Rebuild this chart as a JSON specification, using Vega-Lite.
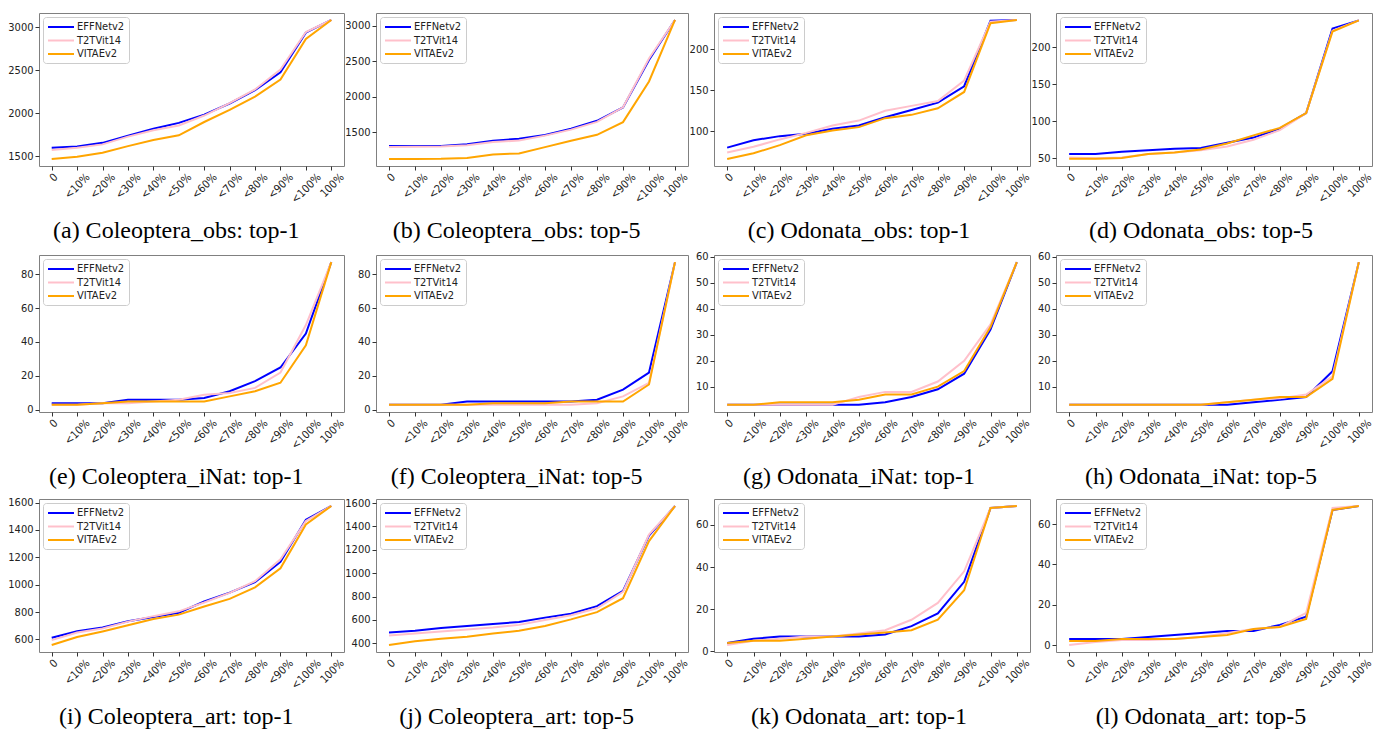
{
"$schema": "https://vega.github.io/schema/vega-lite/v6.json",
"padding": {"left": 6, "top": 12, "right": 0, "bottom": 0},
"background": "white",
"spacing": {"row": 6, "column": -4},
"columns": 4,
"datasets": {
"pts": [
{"p":"a","m":"EFFNetv2","c":"0","v":1600},{"p":"a","m":"EFFNetv2","c":"<10%","v":1615},{"p":"a","m":"EFFNetv2","c":"<20%","v":1658},{"p":"a","m":"EFFNetv2","c":"<30%","v":1742},{"p":"a","m":"EFFNetv2","c":"<40%","v":1822},{"p":"a","m":"EFFNetv2","c":"<50%","v":1890},{"p":"a","m":"EFFNetv2","c":"<60%","v":1985},{"p":"a","m":"EFFNetv2","c":"<70%","v":2115},{"p":"a","m":"EFFNetv2","c":"<80%","v":2270},{"p":"a","m":"EFFNetv2","c":"<90%","v":2478},{"p":"a","m":"EFFNetv2","c":"<100%","v":2938},{"p":"a","m":"EFFNetv2","c":"100%","v":3085},
{"p":"a","m":"T2TVit14","c":"0","v":1575},{"p":"a","m":"T2TVit14","c":"<10%","v":1600},{"p":"a","m":"T2TVit14","c":"<20%","v":1640},{"p":"a","m":"T2TVit14","c":"<30%","v":1730},{"p":"a","m":"T2TVit14","c":"<40%","v":1805},{"p":"a","m":"T2TVit14","c":"<50%","v":1860},{"p":"a","m":"T2TVit14","c":"<60%","v":1975},{"p":"a","m":"T2TVit14","c":"<70%","v":2120},{"p":"a","m":"T2TVit14","c":"<80%","v":2278},{"p":"a","m":"T2TVit14","c":"<90%","v":2510},{"p":"a","m":"T2TVit14","c":"<100%","v":2945},{"p":"a","m":"T2TVit14","c":"100%","v":3085},
{"p":"a","m":"VITAEv2","c":"0","v":1470},{"p":"a","m":"VITAEv2","c":"<10%","v":1496},{"p":"a","m":"VITAEv2","c":"<20%","v":1542},{"p":"a","m":"VITAEv2","c":"<30%","v":1620},{"p":"a","m":"VITAEv2","c":"<40%","v":1690},{"p":"a","m":"VITAEv2","c":"<50%","v":1746},{"p":"a","m":"VITAEv2","c":"<60%","v":1900},{"p":"a","m":"VITAEv2","c":"<70%","v":2040},{"p":"a","m":"VITAEv2","c":"<80%","v":2196},{"p":"a","m":"VITAEv2","c":"<90%","v":2392},{"p":"a","m":"VITAEv2","c":"<100%","v":2865},{"p":"a","m":"VITAEv2","c":"100%","v":3085},
{"p":"b","m":"EFFNetv2","c":"0","v":1302},{"p":"b","m":"EFFNetv2","c":"<10%","v":1302},{"p":"b","m":"EFFNetv2","c":"<20%","v":1305},{"p":"b","m":"EFFNetv2","c":"<30%","v":1330},{"p":"b","m":"EFFNetv2","c":"<40%","v":1378},{"p":"b","m":"EFFNetv2","c":"<50%","v":1406},{"p":"b","m":"EFFNetv2","c":"<60%","v":1460},{"p":"b","m":"EFFNetv2","c":"<70%","v":1547},{"p":"b","m":"EFFNetv2","c":"<80%","v":1660},{"p":"b","m":"EFFNetv2","c":"<90%","v":1848},{"p":"b","m":"EFFNetv2","c":"<100%","v":2520},{"p":"b","m":"EFFNetv2","c":"100%","v":3085},
{"p":"b","m":"T2TVit14","c":"0","v":1290},{"p":"b","m":"T2TVit14","c":"<10%","v":1292},{"p":"b","m":"T2TVit14","c":"<20%","v":1295},{"p":"b","m":"T2TVit14","c":"<30%","v":1315},{"p":"b","m":"T2TVit14","c":"<40%","v":1360},{"p":"b","m":"T2TVit14","c":"<50%","v":1380},{"p":"b","m":"T2TVit14","c":"<60%","v":1450},{"p":"b","m":"T2TVit14","c":"<70%","v":1535},{"p":"b","m":"T2TVit14","c":"<80%","v":1645},{"p":"b","m":"T2TVit14","c":"<90%","v":1850},{"p":"b","m":"T2TVit14","c":"<100%","v":2540},{"p":"b","m":"T2TVit14","c":"100%","v":3085},
{"p":"b","m":"VITAEv2","c":"0","v":1119},{"p":"b","m":"VITAEv2","c":"<10%","v":1120},{"p":"b","m":"VITAEv2","c":"<20%","v":1122},{"p":"b","m":"VITAEv2","c":"<30%","v":1133},{"p":"b","m":"VITAEv2","c":"<40%","v":1185},{"p":"b","m":"VITAEv2","c":"<50%","v":1199},{"p":"b","m":"VITAEv2","c":"<60%","v":1288},{"p":"b","m":"VITAEv2","c":"<70%","v":1378},{"p":"b","m":"VITAEv2","c":"<80%","v":1462},{"p":"b","m":"VITAEv2","c":"<90%","v":1641},{"p":"b","m":"VITAEv2","c":"<100%","v":2215},{"p":"b","m":"VITAEv2","c":"100%","v":3085},
{"p":"c","m":"EFFNetv2","c":"0","v":80},{"p":"c","m":"EFFNetv2","c":"<10%","v":89},{"p":"c","m":"EFFNetv2","c":"<20%","v":94},{"p":"c","m":"EFFNetv2","c":"<30%","v":97},{"p":"c","m":"EFFNetv2","c":"<40%","v":103},{"p":"c","m":"EFFNetv2","c":"<50%","v":107},{"p":"c","m":"EFFNetv2","c":"<60%","v":117},{"p":"c","m":"EFFNetv2","c":"<70%","v":126},{"p":"c","m":"EFFNetv2","c":"<80%","v":135},{"p":"c","m":"EFFNetv2","c":"<90%","v":155},{"p":"c","m":"EFFNetv2","c":"<100%","v":235},{"p":"c","m":"EFFNetv2","c":"100%","v":236},
{"p":"c","m":"T2TVit14","c":"0","v":74},{"p":"c","m":"T2TVit14","c":"<10%","v":81},{"p":"c","m":"T2TVit14","c":"<20%","v":90},{"p":"c","m":"T2TVit14","c":"<30%","v":98},{"p":"c","m":"T2TVit14","c":"<40%","v":107},{"p":"c","m":"T2TVit14","c":"<50%","v":113},{"p":"c","m":"T2TVit14","c":"<60%","v":125},{"p":"c","m":"T2TVit14","c":"<70%","v":131},{"p":"c","m":"T2TVit14","c":"<80%","v":137},{"p":"c","m":"T2TVit14","c":"<90%","v":162},{"p":"c","m":"T2TVit14","c":"<100%","v":234},{"p":"c","m":"T2TVit14","c":"100%","v":236},
{"p":"c","m":"VITAEv2","c":"0","v":66},{"p":"c","m":"VITAEv2","c":"<10%","v":73},{"p":"c","m":"VITAEv2","c":"<20%","v":83},{"p":"c","m":"VITAEv2","c":"<30%","v":95},{"p":"c","m":"VITAEv2","c":"<40%","v":101},{"p":"c","m":"VITAEv2","c":"<50%","v":105},{"p":"c","m":"VITAEv2","c":"<60%","v":116},{"p":"c","m":"VITAEv2","c":"<70%","v":120},{"p":"c","m":"VITAEv2","c":"<80%","v":128},{"p":"c","m":"VITAEv2","c":"<90%","v":148},{"p":"c","m":"VITAEv2","c":"<100%","v":232},{"p":"c","m":"VITAEv2","c":"100%","v":236},
{"p":"d","m":"EFFNetv2","c":"0","v":56},{"p":"d","m":"EFFNetv2","c":"<10%","v":56},{"p":"d","m":"EFFNetv2","c":"<20%","v":59},{"p":"d","m":"EFFNetv2","c":"<30%","v":61},{"p":"d","m":"EFFNetv2","c":"<40%","v":63},{"p":"d","m":"EFFNetv2","c":"<50%","v":64},{"p":"d","m":"EFFNetv2","c":"<60%","v":71},{"p":"d","m":"EFFNetv2","c":"<70%","v":78},{"p":"d","m":"EFFNetv2","c":"<80%","v":90},{"p":"d","m":"EFFNetv2","c":"<90%","v":111},{"p":"d","m":"EFFNetv2","c":"<100%","v":225},{"p":"d","m":"EFFNetv2","c":"100%","v":236},
{"p":"d","m":"T2TVit14","c":"0","v":51},{"p":"d","m":"T2TVit14","c":"<10%","v":50},{"p":"d","m":"T2TVit14","c":"<20%","v":51},{"p":"d","m":"T2TVit14","c":"<30%","v":56},{"p":"d","m":"T2TVit14","c":"<40%","v":58},{"p":"d","m":"T2TVit14","c":"<50%","v":61},{"p":"d","m":"T2TVit14","c":"<60%","v":66},{"p":"d","m":"T2TVit14","c":"<70%","v":75},{"p":"d","m":"T2TVit14","c":"<80%","v":88},{"p":"d","m":"T2TVit14","c":"<90%","v":111},{"p":"d","m":"T2TVit14","c":"<100%","v":222},{"p":"d","m":"T2TVit14","c":"100%","v":236},
{"p":"d","m":"VITAEv2","c":"0","v":49.5},{"p":"d","m":"VITAEv2","c":"<10%","v":49.5},{"p":"d","m":"VITAEv2","c":"<20%","v":50.5},{"p":"d","m":"VITAEv2","c":"<30%","v":56},{"p":"d","m":"VITAEv2","c":"<40%","v":58},{"p":"d","m":"VITAEv2","c":"<50%","v":62},{"p":"d","m":"VITAEv2","c":"<60%","v":70},{"p":"d","m":"VITAEv2","c":"<70%","v":81},{"p":"d","m":"VITAEv2","c":"<80%","v":91},{"p":"d","m":"VITAEv2","c":"<90%","v":111},{"p":"d","m":"VITAEv2","c":"<100%","v":221},{"p":"d","m":"VITAEv2","c":"100%","v":236},
{"p":"e","m":"EFFNetv2","c":"0","v":4},{"p":"e","m":"EFFNetv2","c":"<10%","v":4},{"p":"e","m":"EFFNetv2","c":"<20%","v":4},{"p":"e","m":"EFFNetv2","c":"<30%","v":6},{"p":"e","m":"EFFNetv2","c":"<40%","v":6},{"p":"e","m":"EFFNetv2","c":"<50%","v":6},{"p":"e","m":"EFFNetv2","c":"<60%","v":7},{"p":"e","m":"EFFNetv2","c":"<70%","v":11},{"p":"e","m":"EFFNetv2","c":"<80%","v":17},{"p":"e","m":"EFFNetv2","c":"<90%","v":25},{"p":"e","m":"EFFNetv2","c":"<100%","v":45},{"p":"e","m":"EFFNetv2","c":"100%","v":87},
{"p":"e","m":"T2TVit14","c":"0","v":3},{"p":"e","m":"T2TVit14","c":"<10%","v":3},{"p":"e","m":"T2TVit14","c":"<20%","v":4},{"p":"e","m":"T2TVit14","c":"<30%","v":4},{"p":"e","m":"T2TVit14","c":"<40%","v":5},{"p":"e","m":"T2TVit14","c":"<50%","v":6},{"p":"e","m":"T2TVit14","c":"<60%","v":9},{"p":"e","m":"T2TVit14","c":"<70%","v":10},{"p":"e","m":"T2TVit14","c":"<80%","v":13},{"p":"e","m":"T2TVit14","c":"<90%","v":22},{"p":"e","m":"T2TVit14","c":"<100%","v":50},{"p":"e","m":"T2TVit14","c":"100%","v":87},
{"p":"e","m":"VITAEv2","c":"0","v":3},{"p":"e","m":"VITAEv2","c":"<10%","v":3},{"p":"e","m":"VITAEv2","c":"<20%","v":4},{"p":"e","m":"VITAEv2","c":"<30%","v":5},{"p":"e","m":"VITAEv2","c":"<40%","v":5},{"p":"e","m":"VITAEv2","c":"<50%","v":5},{"p":"e","m":"VITAEv2","c":"<60%","v":5},{"p":"e","m":"VITAEv2","c":"<70%","v":8},{"p":"e","m":"VITAEv2","c":"<80%","v":11},{"p":"e","m":"VITAEv2","c":"<90%","v":16},{"p":"e","m":"VITAEv2","c":"<100%","v":38},{"p":"e","m":"VITAEv2","c":"100%","v":87},
{"p":"f","m":"EFFNetv2","c":"0","v":3},{"p":"f","m":"EFFNetv2","c":"<10%","v":3},{"p":"f","m":"EFFNetv2","c":"<20%","v":3},{"p":"f","m":"EFFNetv2","c":"<30%","v":5},{"p":"f","m":"EFFNetv2","c":"<40%","v":5},{"p":"f","m":"EFFNetv2","c":"<50%","v":5},{"p":"f","m":"EFFNetv2","c":"<60%","v":5},{"p":"f","m":"EFFNetv2","c":"<70%","v":5},{"p":"f","m":"EFFNetv2","c":"<80%","v":6},{"p":"f","m":"EFFNetv2","c":"<90%","v":12},{"p":"f","m":"EFFNetv2","c":"<100%","v":22},{"p":"f","m":"EFFNetv2","c":"100%","v":87},
{"p":"f","m":"T2TVit14","c":"0","v":3},{"p":"f","m":"T2TVit14","c":"<10%","v":3},{"p":"f","m":"T2TVit14","c":"<20%","v":3},{"p":"f","m":"T2TVit14","c":"<30%","v":3},{"p":"f","m":"T2TVit14","c":"<40%","v":3},{"p":"f","m":"T2TVit14","c":"<50%","v":3},{"p":"f","m":"T2TVit14","c":"<60%","v":3},{"p":"f","m":"T2TVit14","c":"<70%","v":3},{"p":"f","m":"T2TVit14","c":"<80%","v":4},{"p":"f","m":"T2TVit14","c":"<90%","v":8},{"p":"f","m":"T2TVit14","c":"<100%","v":16},{"p":"f","m":"T2TVit14","c":"100%","v":87},
{"p":"f","m":"VITAEv2","c":"0","v":3},{"p":"f","m":"VITAEv2","c":"<10%","v":3},{"p":"f","m":"VITAEv2","c":"<20%","v":3},{"p":"f","m":"VITAEv2","c":"<30%","v":3},{"p":"f","m":"VITAEv2","c":"<40%","v":4},{"p":"f","m":"VITAEv2","c":"<50%","v":4},{"p":"f","m":"VITAEv2","c":"<60%","v":4},{"p":"f","m":"VITAEv2","c":"<70%","v":5},{"p":"f","m":"VITAEv2","c":"<80%","v":5},{"p":"f","m":"VITAEv2","c":"<90%","v":5},{"p":"f","m":"VITAEv2","c":"<100%","v":15},{"p":"f","m":"VITAEv2","c":"100%","v":87},
{"p":"g","m":"EFFNetv2","c":"0","v":3},{"p":"g","m":"EFFNetv2","c":"<10%","v":3},{"p":"g","m":"EFFNetv2","c":"<20%","v":3},{"p":"g","m":"EFFNetv2","c":"<30%","v":3},{"p":"g","m":"EFFNetv2","c":"<40%","v":3},{"p":"g","m":"EFFNetv2","c":"<50%","v":3},{"p":"g","m":"EFFNetv2","c":"<60%","v":4},{"p":"g","m":"EFFNetv2","c":"<70%","v":6},{"p":"g","m":"EFFNetv2","c":"<80%","v":9},{"p":"g","m":"EFFNetv2","c":"<90%","v":15},{"p":"g","m":"EFFNetv2","c":"<100%","v":32},{"p":"g","m":"EFFNetv2","c":"100%","v":58},
{"p":"g","m":"T2TVit14","c":"0","v":3},{"p":"g","m":"T2TVit14","c":"<10%","v":3},{"p":"g","m":"T2TVit14","c":"<20%","v":3},{"p":"g","m":"T2TVit14","c":"<30%","v":3},{"p":"g","m":"T2TVit14","c":"<40%","v":3},{"p":"g","m":"T2TVit14","c":"<50%","v":6},{"p":"g","m":"T2TVit14","c":"<60%","v":8},{"p":"g","m":"T2TVit14","c":"<70%","v":8},{"p":"g","m":"T2TVit14","c":"<80%","v":12},{"p":"g","m":"T2TVit14","c":"<90%","v":20},{"p":"g","m":"T2TVit14","c":"<100%","v":34},{"p":"g","m":"T2TVit14","c":"100%","v":58},
{"p":"g","m":"VITAEv2","c":"0","v":3},{"p":"g","m":"VITAEv2","c":"<10%","v":3},{"p":"g","m":"VITAEv2","c":"<20%","v":4},{"p":"g","m":"VITAEv2","c":"<30%","v":4},{"p":"g","m":"VITAEv2","c":"<40%","v":4},{"p":"g","m":"VITAEv2","c":"<50%","v":5},{"p":"g","m":"VITAEv2","c":"<60%","v":7},{"p":"g","m":"VITAEv2","c":"<70%","v":7},{"p":"g","m":"VITAEv2","c":"<80%","v":10},{"p":"g","m":"VITAEv2","c":"<90%","v":16},{"p":"g","m":"VITAEv2","c":"<100%","v":33},{"p":"g","m":"VITAEv2","c":"100%","v":58},
{"p":"h","m":"EFFNetv2","c":"0","v":3},{"p":"h","m":"EFFNetv2","c":"<10%","v":3},{"p":"h","m":"EFFNetv2","c":"<20%","v":3},{"p":"h","m":"EFFNetv2","c":"<30%","v":3},{"p":"h","m":"EFFNetv2","c":"<40%","v":3},{"p":"h","m":"EFFNetv2","c":"<50%","v":3},{"p":"h","m":"EFFNetv2","c":"<60%","v":3},{"p":"h","m":"EFFNetv2","c":"<70%","v":4},{"p":"h","m":"EFFNetv2","c":"<80%","v":5},{"p":"h","m":"EFFNetv2","c":"<90%","v":6},{"p":"h","m":"EFFNetv2","c":"<100%","v":16},{"p":"h","m":"EFFNetv2","c":"100%","v":58},
{"p":"h","m":"T2TVit14","c":"0","v":3},{"p":"h","m":"T2TVit14","c":"<10%","v":3},{"p":"h","m":"T2TVit14","c":"<20%","v":3},{"p":"h","m":"T2TVit14","c":"<30%","v":3},{"p":"h","m":"T2TVit14","c":"<40%","v":3},{"p":"h","m":"T2TVit14","c":"<50%","v":3},{"p":"h","m":"T2TVit14","c":"<60%","v":4},{"p":"h","m":"T2TVit14","c":"<70%","v":5},{"p":"h","m":"T2TVit14","c":"<80%","v":5.5},{"p":"h","m":"T2TVit14","c":"<90%","v":7},{"p":"h","m":"T2TVit14","c":"<100%","v":14},{"p":"h","m":"T2TVit14","c":"100%","v":58},
{"p":"h","m":"VITAEv2","c":"0","v":3},{"p":"h","m":"VITAEv2","c":"<10%","v":3},{"p":"h","m":"VITAEv2","c":"<20%","v":3},{"p":"h","m":"VITAEv2","c":"<30%","v":3},{"p":"h","m":"VITAEv2","c":"<40%","v":3},{"p":"h","m":"VITAEv2","c":"<50%","v":3},{"p":"h","m":"VITAEv2","c":"<60%","v":4},{"p":"h","m":"VITAEv2","c":"<70%","v":5},{"p":"h","m":"VITAEv2","c":"<80%","v":6},{"p":"h","m":"VITAEv2","c":"<90%","v":6},{"p":"h","m":"VITAEv2","c":"<100%","v":13},{"p":"h","m":"VITAEv2","c":"100%","v":58},
{"p":"i","m":"EFFNetv2","c":"0","v":612},{"p":"i","m":"EFFNetv2","c":"<10%","v":660},{"p":"i","m":"EFFNetv2","c":"<20%","v":688},{"p":"i","m":"EFFNetv2","c":"<30%","v":733},{"p":"i","m":"EFFNetv2","c":"<40%","v":764},{"p":"i","m":"EFFNetv2","c":"<50%","v":795},{"p":"i","m":"EFFNetv2","c":"<60%","v":877},{"p":"i","m":"EFFNetv2","c":"<70%","v":942},{"p":"i","m":"EFFNetv2","c":"<80%","v":1019},{"p":"i","m":"EFFNetv2","c":"<90%","v":1166},{"p":"i","m":"EFFNetv2","c":"<100%","v":1474},{"p":"i","m":"EFFNetv2","c":"100%","v":1575},
{"p":"i","m":"T2TVit14","c":"0","v":595},{"p":"i","m":"T2TVit14","c":"<10%","v":650},{"p":"i","m":"T2TVit14","c":"<20%","v":680},{"p":"i","m":"T2TVit14","c":"<30%","v":730},{"p":"i","m":"T2TVit14","c":"<40%","v":770},{"p":"i","m":"T2TVit14","c":"<50%","v":805},{"p":"i","m":"T2TVit14","c":"<60%","v":870},{"p":"i","m":"T2TVit14","c":"<70%","v":940},{"p":"i","m":"T2TVit14","c":"<80%","v":1025},{"p":"i","m":"T2TVit14","c":"<90%","v":1185},{"p":"i","m":"T2TVit14","c":"<100%","v":1465},{"p":"i","m":"T2TVit14","c":"100%","v":1575},
{"p":"i","m":"VITAEv2","c":"0","v":559},{"p":"i","m":"VITAEv2","c":"<10%","v":617},{"p":"i","m":"VITAEv2","c":"<20%","v":658},{"p":"i","m":"VITAEv2","c":"<30%","v":703},{"p":"i","m":"VITAEv2","c":"<40%","v":749},{"p":"i","m":"VITAEv2","c":"<50%","v":781},{"p":"i","m":"VITAEv2","c":"<60%","v":841},{"p":"i","m":"VITAEv2","c":"<70%","v":896},{"p":"i","m":"VITAEv2","c":"<80%","v":980},{"p":"i","m":"VITAEv2","c":"<90%","v":1120},{"p":"i","m":"VITAEv2","c":"<100%","v":1440},{"p":"i","m":"VITAEv2","c":"100%","v":1575},
{"p":"j","m":"EFFNetv2","c":"0","v":493},{"p":"j","m":"EFFNetv2","c":"<10%","v":507},{"p":"j","m":"EFFNetv2","c":"<20%","v":532},{"p":"j","m":"EFFNetv2","c":"<30%","v":549},{"p":"j","m":"EFFNetv2","c":"<40%","v":566},{"p":"j","m":"EFFNetv2","c":"<50%","v":583},{"p":"j","m":"EFFNetv2","c":"<60%","v":620},{"p":"j","m":"EFFNetv2","c":"<70%","v":654},{"p":"j","m":"EFFNetv2","c":"<80%","v":718},{"p":"j","m":"EFFNetv2","c":"<90%","v":848},{"p":"j","m":"EFFNetv2","c":"<100%","v":1323},{"p":"j","m":"EFFNetv2","c":"100%","v":1575},
{"p":"j","m":"T2TVit14","c":"0","v":468},{"p":"j","m":"T2TVit14","c":"<10%","v":485},{"p":"j","m":"T2TVit14","c":"<20%","v":502},{"p":"j","m":"T2TVit14","c":"<30%","v":519},{"p":"j","m":"T2TVit14","c":"<40%","v":535},{"p":"j","m":"T2TVit14","c":"<50%","v":558},{"p":"j","m":"T2TVit14","c":"<60%","v":600},{"p":"j","m":"T2TVit14","c":"<70%","v":640},{"p":"j","m":"T2TVit14","c":"<80%","v":700},{"p":"j","m":"T2TVit14","c":"<90%","v":840},{"p":"j","m":"T2TVit14","c":"<100%","v":1330},{"p":"j","m":"T2TVit14","c":"100%","v":1575},
{"p":"j","m":"VITAEv2","c":"0","v":386},{"p":"j","m":"VITAEv2","c":"<10%","v":417},{"p":"j","m":"VITAEv2","c":"<20%","v":440},{"p":"j","m":"VITAEv2","c":"<30%","v":456},{"p":"j","m":"VITAEv2","c":"<40%","v":485},{"p":"j","m":"VITAEv2","c":"<50%","v":507},{"p":"j","m":"VITAEv2","c":"<60%","v":549},{"p":"j","m":"VITAEv2","c":"<70%","v":605},{"p":"j","m":"VITAEv2","c":"<80%","v":667},{"p":"j","m":"VITAEv2","c":"<90%","v":786},{"p":"j","m":"VITAEv2","c":"<100%","v":1275},{"p":"j","m":"VITAEv2","c":"100%","v":1575},
{"p":"k","m":"EFFNetv2","c":"0","v":4},{"p":"k","m":"EFFNetv2","c":"<10%","v":6},{"p":"k","m":"EFFNetv2","c":"<20%","v":7},{"p":"k","m":"EFFNetv2","c":"<30%","v":7},{"p":"k","m":"EFFNetv2","c":"<40%","v":7},{"p":"k","m":"EFFNetv2","c":"<50%","v":7},{"p":"k","m":"EFFNetv2","c":"<60%","v":8},{"p":"k","m":"EFFNetv2","c":"<70%","v":12},{"p":"k","m":"EFFNetv2","c":"<80%","v":18},{"p":"k","m":"EFFNetv2","c":"<90%","v":33},{"p":"k","m":"EFFNetv2","c":"<100%","v":68},{"p":"k","m":"EFFNetv2","c":"100%","v":69},
{"p":"k","m":"T2TVit14","c":"0","v":3},{"p":"k","m":"T2TVit14","c":"<10%","v":5},{"p":"k","m":"T2TVit14","c":"<20%","v":6},{"p":"k","m":"T2TVit14","c":"<30%","v":7},{"p":"k","m":"T2TVit14","c":"<40%","v":7},{"p":"k","m":"T2TVit14","c":"<50%","v":8.5},{"p":"k","m":"T2TVit14","c":"<60%","v":10},{"p":"k","m":"T2TVit14","c":"<70%","v":15},{"p":"k","m":"T2TVit14","c":"<80%","v":23},{"p":"k","m":"T2TVit14","c":"<90%","v":38},{"p":"k","m":"T2TVit14","c":"<100%","v":68},{"p":"k","m":"T2TVit14","c":"100%","v":69},
{"p":"k","m":"VITAEv2","c":"0","v":4},{"p":"k","m":"VITAEv2","c":"<10%","v":5},{"p":"k","m":"VITAEv2","c":"<20%","v":5},{"p":"k","m":"VITAEv2","c":"<30%","v":6},{"p":"k","m":"VITAEv2","c":"<40%","v":7},{"p":"k","m":"VITAEv2","c":"<50%","v":8},{"p":"k","m":"VITAEv2","c":"<60%","v":9},{"p":"k","m":"VITAEv2","c":"<70%","v":10},{"p":"k","m":"VITAEv2","c":"<80%","v":15},{"p":"k","m":"VITAEv2","c":"<90%","v":29},{"p":"k","m":"VITAEv2","c":"<100%","v":68},{"p":"k","m":"VITAEv2","c":"100%","v":69},
{"p":"l","m":"EFFNetv2","c":"0","v":3},{"p":"l","m":"EFFNetv2","c":"<10%","v":3},{"p":"l","m":"EFFNetv2","c":"<20%","v":3},{"p":"l","m":"EFFNetv2","c":"<30%","v":4},{"p":"l","m":"EFFNetv2","c":"<40%","v":5},{"p":"l","m":"EFFNetv2","c":"<50%","v":6},{"p":"l","m":"EFFNetv2","c":"<60%","v":7},{"p":"l","m":"EFFNetv2","c":"<70%","v":7},{"p":"l","m":"EFFNetv2","c":"<80%","v":10},{"p":"l","m":"EFFNetv2","c":"<90%","v":14},{"p":"l","m":"EFFNetv2","c":"<100%","v":67},{"p":"l","m":"EFFNetv2","c":"100%","v":69},
{"p":"l","m":"T2TVit14","c":"0","v":0},{"p":"l","m":"T2TVit14","c":"<10%","v":1.5},{"p":"l","m":"T2TVit14","c":"<20%","v":2.5},{"p":"l","m":"T2TVit14","c":"<30%","v":2.5},{"p":"l","m":"T2TVit14","c":"<40%","v":3},{"p":"l","m":"T2TVit14","c":"<50%","v":4},{"p":"l","m":"T2TVit14","c":"<60%","v":6},{"p":"l","m":"T2TVit14","c":"<70%","v":8},{"p":"l","m":"T2TVit14","c":"<80%","v":9},{"p":"l","m":"T2TVit14","c":"<90%","v":16},{"p":"l","m":"T2TVit14","c":"<100%","v":68},{"p":"l","m":"T2TVit14","c":"100%","v":69},
{"p":"l","m":"VITAEv2","c":"0","v":2},{"p":"l","m":"VITAEv2","c":"<10%","v":2},{"p":"l","m":"VITAEv2","c":"<20%","v":3},{"p":"l","m":"VITAEv2","c":"<30%","v":3},{"p":"l","m":"VITAEv2","c":"<40%","v":3},{"p":"l","m":"VITAEv2","c":"<50%","v":4},{"p":"l","m":"VITAEv2","c":"<60%","v":5},{"p":"l","m":"VITAEv2","c":"<70%","v":8},{"p":"l","m":"VITAEv2","c":"<80%","v":9},{"p":"l","m":"VITAEv2","c":"<90%","v":13},{"p":"l","m":"VITAEv2","c":"<100%","v":67},{"p":"l","m":"VITAEv2","c":"100%","v":69}
]
},
"data": {"name": "pts"},
"resolve": {"scale": {"y": "independent", "x": "independent", "color": "independent"}, "legend": {"color": "independent"}},
"concat": [
{"width": 305, "height": 153, "title": "(a) Coleoptera_obs: top-1", "transform": [{"filter": "datum.p == 'a'"}], "mark": "line",
 "encoding": {"x": {"field": "c", "type": "ordinal", "title": null, "sort": ["0","<10%","<20%","<30%","<40%","<50%","<60%","<70%","<80%","<90%","<100%","100%"]},
  "y": {"field": "v", "type": "quantitative", "title": null, "scale": {"domain": [1389, 3166], "nice": false, "zero": false}, "axis": {"values": [1500, 2000, 2500, 3000], "minExtent": 32, "maxExtent": 32}},
  "color": {"field": "m", "type": "nominal", "scale": {"domain": ["EFFNetv2", "T2TVit14", "VITAEv2"], "range": ["#0000ff", "#ffc0cb", "#ffa500"]}, "legend": {"title": null, "symbolType": "M-1,0H4.2", "symbolSize": 100, "labelOffset": 18}}}},
{"width": 312, "height": 153, "title": "(b) Coleoptera_obs: top-5", "transform": [{"filter": "datum.p == 'b'"}], "mark": "line",
 "encoding": {"x": {"field": "c", "type": "ordinal", "title": null, "sort": ["0","<10%","<20%","<30%","<40%","<50%","<60%","<70%","<80%","<90%","<100%","100%"]},
  "y": {"field": "v", "type": "quantitative", "title": null, "scale": {"domain": [1021, 3183], "nice": false, "zero": false}, "axis": {"values": [1500, 2000, 2500, 3000], "minExtent": 32, "maxExtent": 32}},
  "color": {"field": "m", "type": "nominal", "scale": {"domain": ["EFFNetv2", "T2TVit14", "VITAEv2"], "range": ["#0000ff", "#ffc0cb", "#ffa500"]}, "legend": {"title": null, "symbolType": "M-1,0H4.2", "symbolSize": 100, "labelOffset": 18}}}},
{"width": 316, "height": 153, "title": "(c) Odonata_obs: top-1", "transform": [{"filter": "datum.p == 'c'"}], "mark": "line",
 "encoding": {"x": {"field": "c", "type": "ordinal", "title": null, "sort": ["0","<10%","<20%","<30%","<40%","<50%","<60%","<70%","<80%","<90%","<100%","100%"]},
  "y": {"field": "v", "type": "quantitative", "title": null, "scale": {"domain": [57.5, 244.5], "nice": false, "zero": false}, "axis": {"values": [100, 150, 200], "minExtent": 27, "maxExtent": 27}},
  "color": {"field": "m", "type": "nominal", "scale": {"domain": ["EFFNetv2", "T2TVit14", "VITAEv2"], "range": ["#0000ff", "#ffc0cb", "#ffa500"]}, "legend": {"title": null, "symbolType": "M-1,0H4.2", "symbolSize": 100, "labelOffset": 18}}}},
{"width": 316, "height": 153, "title": "(d) Odonata_obs: top-5", "transform": [{"filter": "datum.p == 'd'"}], "mark": "line",
 "encoding": {"x": {"field": "c", "type": "ordinal", "title": null, "sort": ["0","<10%","<20%","<30%","<40%","<50%","<60%","<70%","<80%","<90%","<100%","100%"]},
  "y": {"field": "v", "type": "quantitative", "title": null, "scale": {"domain": [39.7, 245.9], "nice": false, "zero": false}, "axis": {"values": [50, 100, 150, 200], "minExtent": 27, "maxExtent": 27}},
  "color": {"field": "m", "type": "nominal", "scale": {"domain": ["EFFNetv2", "T2TVit14", "VITAEv2"], "range": ["#0000ff", "#ffc0cb", "#ffa500"]}, "legend": {"title": null, "symbolType": "M-1,0H4.2", "symbolSize": 100, "labelOffset": 18}}}},
{"width": 305, "height": 157, "title": "(e) Coleoptera_iNat: top-1", "transform": [{"filter": "datum.p == 'e'"}], "mark": "line",
 "encoding": {"x": {"field": "c", "type": "ordinal", "title": null, "sort": ["0","<10%","<20%","<30%","<40%","<50%","<60%","<70%","<80%","<90%","<100%","100%"]},
  "y": {"field": "v", "type": "quantitative", "title": null, "scale": {"domain": [-1.2, 91.2], "nice": false, "zero": false}, "axis": {"values": [0, 20, 40, 60, 80], "minExtent": 32, "maxExtent": 32}},
  "color": {"field": "m", "type": "nominal", "scale": {"domain": ["EFFNetv2", "T2TVit14", "VITAEv2"], "range": ["#0000ff", "#ffc0cb", "#ffa500"]}, "legend": {"title": null, "symbolType": "M-1,0H4.2", "symbolSize": 100, "labelOffset": 18}}}},
{"width": 312, "height": 157, "title": "(f) Coleoptera_iNat: top-5", "transform": [{"filter": "datum.p == 'f'"}], "mark": "line",
 "encoding": {"x": {"field": "c", "type": "ordinal", "title": null, "sort": ["0","<10%","<20%","<30%","<40%","<50%","<60%","<70%","<80%","<90%","<100%","100%"]},
  "y": {"field": "v", "type": "quantitative", "title": null, "scale": {"domain": [-1.2, 91.2], "nice": false, "zero": false}, "axis": {"values": [0, 20, 40, 60, 80], "minExtent": 32, "maxExtent": 32}},
  "color": {"field": "m", "type": "nominal", "scale": {"domain": ["EFFNetv2", "T2TVit14", "VITAEv2"], "range": ["#0000ff", "#ffc0cb", "#ffa500"]}, "legend": {"title": null, "symbolType": "M-1,0H4.2", "symbolSize": 100, "labelOffset": 18}}}},
{"width": 316, "height": 157, "title": "(g) Odonata_iNat: top-1", "transform": [{"filter": "datum.p == 'g'"}], "mark": "line",
 "encoding": {"x": {"field": "c", "type": "ordinal", "title": null, "sort": ["0","<10%","<20%","<30%","<40%","<50%","<60%","<70%","<80%","<90%","<100%","100%"]},
  "y": {"field": "v", "type": "quantitative", "title": null, "scale": {"domain": [0.25, 60.75], "nice": false, "zero": false}, "axis": {"values": [10, 20, 30, 40, 50, 60], "minExtent": 27, "maxExtent": 27}},
  "color": {"field": "m", "type": "nominal", "scale": {"domain": ["EFFNetv2", "T2TVit14", "VITAEv2"], "range": ["#0000ff", "#ffc0cb", "#ffa500"]}, "legend": {"title": null, "symbolType": "M-1,0H4.2", "symbolSize": 100, "labelOffset": 18}}}},
{"width": 316, "height": 157, "title": "(h) Odonata_iNat: top-5", "transform": [{"filter": "datum.p == 'h'"}], "mark": "line",
 "encoding": {"x": {"field": "c", "type": "ordinal", "title": null, "sort": ["0","<10%","<20%","<30%","<40%","<50%","<60%","<70%","<80%","<90%","<100%","100%"]},
  "y": {"field": "v", "type": "quantitative", "title": null, "scale": {"domain": [0.25, 60.75], "nice": false, "zero": false}, "axis": {"values": [10, 20, 30, 40, 50, 60], "minExtent": 27, "maxExtent": 27}},
  "color": {"field": "m", "type": "nominal", "scale": {"domain": ["EFFNetv2", "T2TVit14", "VITAEv2"], "range": ["#0000ff", "#ffc0cb", "#ffa500"]}, "legend": {"title": null, "symbolType": "M-1,0H4.2", "symbolSize": 100, "labelOffset": 18}}}},
{"width": 305, "height": 153, "title": "(i) Coleoptera_art: top-1", "transform": [{"filter": "datum.p == 'i'"}], "mark": "line",
 "encoding": {"x": {"field": "c", "type": "ordinal", "title": null, "sort": ["0","<10%","<20%","<30%","<40%","<50%","<60%","<70%","<80%","<90%","<100%","100%"]},
  "y": {"field": "v", "type": "quantitative", "title": null, "scale": {"domain": [508, 1626], "nice": false, "zero": false}, "axis": {"values": [600, 800, 1000, 1200, 1400, 1600], "minExtent": 32, "maxExtent": 32}},
  "color": {"field": "m", "type": "nominal", "scale": {"domain": ["EFFNetv2", "T2TVit14", "VITAEv2"], "range": ["#0000ff", "#ffc0cb", "#ffa500"]}, "legend": {"title": null, "symbolType": "M-1,0H4.2", "symbolSize": 100, "labelOffset": 18}}}},
{"width": 312, "height": 153, "title": "(j) Coleoptera_art: top-5", "transform": [{"filter": "datum.p == 'j'"}], "mark": "line",
 "encoding": {"x": {"field": "c", "type": "ordinal", "title": null, "sort": ["0","<10%","<20%","<30%","<40%","<50%","<60%","<70%","<80%","<90%","<100%","100%"]},
  "y": {"field": "v", "type": "quantitative", "title": null, "scale": {"domain": [326, 1635], "nice": false, "zero": false}, "axis": {"values": [400, 600, 800, 1000, 1200, 1400, 1600], "minExtent": 32, "maxExtent": 32}},
  "color": {"field": "m", "type": "nominal", "scale": {"domain": ["EFFNetv2", "T2TVit14", "VITAEv2"], "range": ["#0000ff", "#ffc0cb", "#ffa500"]}, "legend": {"title": null, "symbolType": "M-1,0H4.2", "symbolSize": 100, "labelOffset": 18}}}},
{"width": 316, "height": 153, "title": "(k) Odonata_art: top-1", "transform": [{"filter": "datum.p == 'k'"}], "mark": "line",
 "encoding": {"x": {"field": "c", "type": "ordinal", "title": null, "sort": ["0","<10%","<20%","<30%","<40%","<50%","<60%","<70%","<80%","<90%","<100%","100%"]},
  "y": {"field": "v", "type": "quantitative", "title": null, "scale": {"domain": [-0.3, 72.3], "nice": false, "zero": false}, "axis": {"values": [0, 20, 40, 60], "minExtent": 27, "maxExtent": 27}},
  "color": {"field": "m", "type": "nominal", "scale": {"domain": ["EFFNetv2", "T2TVit14", "VITAEv2"], "range": ["#0000ff", "#ffc0cb", "#ffa500"]}, "legend": {"title": null, "symbolType": "M-1,0H4.2", "symbolSize": 100, "labelOffset": 18}}}},
{"width": 316, "height": 153, "title": "(l) Odonata_art: top-5", "transform": [{"filter": "datum.p == 'l'"}], "mark": "line",
 "encoding": {"x": {"field": "c", "type": "ordinal", "title": null, "sort": ["0","<10%","<20%","<30%","<40%","<50%","<60%","<70%","<80%","<90%","<100%","100%"]},
  "y": {"field": "v", "type": "quantitative", "title": null, "scale": {"domain": [-3.45, 72.45], "nice": false, "zero": false}, "axis": {"values": [0, 20, 40, 60], "minExtent": 27, "maxExtent": 27}},
  "color": {"field": "m", "type": "nominal", "scale": {"domain": ["EFFNetv2", "T2TVit14", "VITAEv2"], "range": ["#0000ff", "#ffc0cb", "#ffa500"]}, "legend": {"title": null, "symbolType": "M-1,0H4.2", "symbolSize": 100, "labelOffset": 18}}}}
],
"config": {
 "view": {"stroke": "#808080", "strokeWidth": 1},
 "line": {"strokeWidth": 2},
 "scale": {"pointPadding": 0.5},
 "axis": {"grid": false, "domain": false, "tickColor": "#333", "tickSize": 4, "labelFont": "DejaVu Sans Condensed", "labelFontSize": 11, "labelColor": "#222"},
 "axisX": {"labelAngle": -45, "labelAlign": "right", "labelBaseline": "top", "labelPadding": 1,
   "labelOffset": {"condition": [{"test": "length(datum.label) == 1", "value": 0}, {"test": "length(datum.label) == 5", "value": 9}], "value": 6.5}},
 "axisY": {"labelPadding": 2, "format": "d"},
 "legend": {"orient": "top-left", "offset": 4, "padding": 4, "fillColor": "white", "strokeColor": "#cccccc", "cornerRadius": 3, "symbolStrokeWidth": 2, "labelFont": "DejaVu Sans Condensed", "labelFontSize": 11, "labelColor": "#222", "rowPadding": 2.5},
 "title": {"orient": "bottom", "anchor": "middle", "frame": "bounds", "font": "Liberation Serif", "fontSize": 24, "fontWeight": "normal", "color": "black", "offset": 14}
}
}
